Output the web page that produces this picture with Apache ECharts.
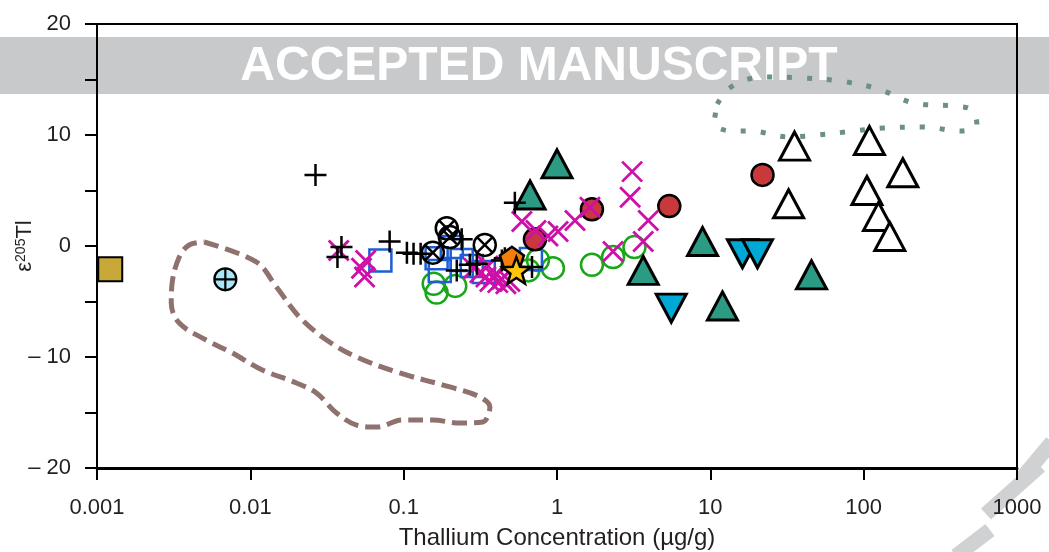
<!DOCTYPE html>
<html>
<head>
<meta charset="utf-8">
<script src="https://cdn.jsdelivr.net/npm/echarts@6/dist/echarts.min.js"></script>
<style>html,body{margin:0;padding:0;background:#fff}#c{width:1049px;height:552px}</style>
</head>
<body>
<div id="c"></div>
<script>
// ---- data (x = Tl concentration µg/g, y = ε205Tl) ----
const xTickLabels = ['0.001', '0.01', '0.1', '1', '10', '100', '1000'];
const yTickValues = [-20, -10, 0, 10, 20];
const yTickLabels = ['– 20', '– 10', '0', '10', '20'];

const goldSquare = [[0.00122, -2.1]];
const blueCirclePlus = [[0.00687, -3.0]];
const blackPlus = [[0.0266, 6.4], [0.037, -1.0], [0.0393, -0.1], [0.081, 0.4], [0.105, -0.6], [0.116, -0.7],
  [0.129, -0.7], [0.239, 0.6], [0.222, -2.2], [0.27, -1.7], [0.300, -1.6], [0.437, -1.3], [0.531, 3.9],
  [0.457, -1.1], [0.687, -1.9]];
const magentaCross = [[0.0377, -0.4], [0.0565, -1.3], [0.0531, -2.0], [0.0556, -2.8], [0.287, -2.0],
  [0.314, -2.4], [0.344, -2.8], [0.365, -3.2], [0.387, -2.7], [0.411, -3.3], [0.437, -3.0], [0.464, -3.4],
  [0.354, -1.8], [0.493, -3.2], [0.59, 2.2], [0.729, 1.4], [0.873, 0.9], [1.016, 1.3], [1.31, 2.3],
  [1.64, 3.5], [3.09, 6.7], [3.0, 4.4], [3.94, 2.3], [3.65, 0.4], [2.32, -0.5]];
const blueSquare = [[0.0705, -1.3], [0.164, -1.1], [0.172, -2.25], [0.206, -0.1], [0.239, -1.26],
  [0.278, -1.8], [0.333, -2.34], [0.676, -1.17]];
const greenCircle = [[0.157, -3.4], [0.164, -4.2], [0.217, -3.6], [0.65, -2.2], [0.751, -1.26],
  [0.94, -2.0], [1.69, -1.7], [2.32, -1.0], [3.2, -0.1]];
const circleCross = [[0.191, 1.6], [0.2, 0.8], [0.338, 0.1], [0.155, -0.6]];
const redCircle = [[0.718, 0.6], [1.69, 3.3], [5.4, 3.6], [21.9, 6.4]];
const tealTriangle = [[1.0, 7.4], [0.667, 4.6], [3.65, -2.2], [8.9, 0.4], [12.0, -5.4], [45.7, -2.6]];
const cyanDownTriangle = [[16.2, -0.7], [20.3, -0.7], [5.56, -5.6]];
const openTriangle = [[35.4, 9.0], [32.4, 3.8], [109, 9.5], [180, 6.6], [105, 5.0], [125, 2.66], [148, 0.86]];
const orangePentagon = [[0.508, -1.1]];
const yellowStar = [[0.543, -2.2]];

const dashedField = [[0.0050, 0.36], [0.01094, -1.44], [0.0148, -3.69], [0.0209, -6.40], [0.0314, -8.47],
  [0.0493, -10.0], [0.0942, -11.44], [0.200, -12.7], [0.314, -13.6], [0.365, -14.5], [0.328, -15.86],
  [0.232, -15.95], [0.155, -15.68], [0.0985, -15.68], [0.0666, -16.31], [0.0493, -16.13], [0.0365, -15.05],
  [0.0270, -13.24], [0.0200, -12.34], [0.01197, -11.17], [0.00763, -9.64], [0.00515, -8.47],
  [0.00344, -6.94], [0.00305, -5.14], [0.00309, -3.33], [0.00344, -0.99], [0.00399, 0.09], [0.0050, 0.36]];
const dottedField = [[11.1, 12.79], [13.1, 14.14], [16.9, 14.95], [22.9, 15.23], [40.5, 15.14], [70.8, 14.86],
  [125, 14.14], [212, 12.88], [382, 12.61], [508, 12.25], [548, 10.9], [431, 10.36], [243, 10.72],
  [135, 10.63], [76.3, 10.27], [43.0, 9.91], [32.4, 9.82], [18.2, 10.36], [13.7, 10.36], [10.6, 11.08],
  [11.1, 12.79]];

// ---- symbols ----
const PLUS = 'path://M50,0L50,100M0,50L100,50';
const CROSS = 'path://M0,0L100,100M100,0L0,100';
const CIRC_X = 'path://M0,50A50,50,0,1,1,100,50A50,50,0,1,1,0,50ZM14.6,14.6L85.4,85.4M85.4,14.6L14.6,85.4';
const CIRC_PLUS = 'path://M0,50A50,50,0,1,1,100,50A50,50,0,1,1,0,50ZM50,0L50,100M0,50L100,50';
const PENTA = 'path://M50,0L97.6,34.5L79.4,90.5L20.6,90.5L2.4,34.5Z';
const STAR = 'path://M50,0L62.34,33.01L97.55,34.55L69.97,56.49L79.39,90.45L50,71L20.61,90.45L30.03,56.49L2.45,34.55L37.66,33.01Z';

function sc(data, symbol, size, fill, stroke, bw, extra) {
  return Object.assign({
    type: 'scatter', data: data, symbol: symbol, symbolSize: size,
    itemStyle: { color: fill, borderColor: stroke, borderWidth: bw, opacity: 1 },
    emphasis: { disabled: true }, z: 3
  }, extra || {});
}
function contour(data, color, dash) {
  return {
    type: 'line', data: data, showSymbol: false, smooth: 0.35, z: 2,
    lineStyle: { color: color, width: 5, type: dash, cap: 'butt' },
    emphasis: { disabled: true }
  };
}

const FONT = '"Liberation Sans", Arial, Helvetica, sans-serif';
const TR = 'rgba(0,0,0,0)';
const chart = echarts.init(document.getElementById('c'));
chart.setOption({
  animation: false,
  backgroundColor: '#fff',
  textStyle: { fontFamily: FONT },
  grid: { left: 97, right: 32, top: 24, bottom: 84, show: true, borderColor: '#000', borderWidth: 2,
    backgroundColor: 'transparent', containLabel: false, outerBoundsMode: 'none' },
  graphic: [
    { type: 'rect', z: -10, shape: { x: 0, y: 37, width: 1049, height: 57 }, style: { fill: '#c8c9cb' } },
    { type: 'text', z: -9, x: 539, y: 67, style: { text: 'ACCEPTED MANUSCRIPT', fill: '#fff', font: 'bold 48px ' + FONT, textAlign: 'center', textVerticalAlign: 'middle' } },
    { type: 'polyline', z: -9, shape: { points: [[1022, 478], [1052, 442]] }, style: { stroke: '#d0d1d3', lineWidth: 15 } },
    { type: 'polyline', z: -9, shape: { points: [[986, 514], [1040, 466]] }, style: { stroke: '#d0d1d3', lineWidth: 15 } },
    { type: 'polyline', z: -9, shape: { points: [[956, 556], [990, 530]] }, style: { stroke: '#d0d1d3', lineWidth: 15 } }
  ],
  xAxis: {
    type: 'log', logBase: 10, min: 0.001, max: 1000,
    axisLine: { onZero: false, lineStyle: { color: '#000', width: 3 } },
    axisTick: { inside: false, length: 12, lineStyle: { color: '#000', width: 2 } },
    axisLabel: { fontSize: 22, color: '#231f20', margin: 29, fontFamily: FONT,
      formatter: v => xTickLabels[Math.round(Math.log10(v)) + 3] },
    splitLine: { show: false }, minorTick: { show: false },
    name: 'Thallium Concentration (µg/g)', nameLocation: 'middle', nameGap: 58, nameMoveOverlap: false,
    nameTextStyle: { fontSize: 24, color: '#231f20', fontFamily: FONT }
  },
  yAxis: {
    type: 'value', min: -20, max: 20, interval: 5,
    axisLine: { onZero: false, lineStyle: { color: '#000', width: 2 } },
    axisTick: { inside: false, length: 12, lineStyle: { color: '#000', width: 2 } },
    axisLabel: { fontSize: 22, color: '#231f20', margin: 26, fontFamily: FONT,
      formatter: v => { const i = yTickValues.indexOf(v); return i >= 0 ? yTickLabels[i] : ''; } },
    splitLine: { show: false },
    name: '{e|ε}{s|205}{e|Tl}', nameLocation: 'middle', nameGap: 61, nameRotate: 90, nameMoveOverlap: false,
    nameTextStyle: { color: '#231f20', fontFamily: FONT,
      rich: { e: { fontSize: 22, fontFamily: FONT, color: '#231f20' },
              s: { fontSize: 14, fontFamily: FONT, color: '#231f20', verticalAlign: 'top' } } }
  },
  series: [
    contour(dashedField, '#8f716e', [15, 7]),
    contour(dottedField, '#6c8f87', [5, 15]),
    sc(greenCircle, 'circle', 22, TR, '#19a719', 2.5),
    sc(blueSquare, 'rect', 22, TR, '#1d5ed6', 2.5),
    sc(circleCross, CIRC_X, 22, TR, '#000', 2.5),
    sc(redCircle, 'circle', 22, '#c8393b', '#000', 2.5),
    sc(tealTriangle, 'triangle', [30, 28], '#2b9b84', '#000', 3),
    sc(cyanDownTriangle, 'triangle', [30, 28], '#00a8d6', '#000', 3, { symbolRotate: 180 }),
    sc(openTriangle, 'triangle', [30, 28], '#fff', '#000', 3),
    sc(magentaCross, CROSS, 20, TR, '#cf10a8', 2.8),
    sc(blackPlus, PLUS, 22, TR, '#000', 2.5),
    sc(orangePentagon, PENTA, 24, '#f67c0c', '#000', 2.5, { symbolKeepAspect: true }),
    sc(yellowStar, STAR, 28, '#ffc40c', '#000', 2.5, { symbolKeepAspect: true }),
    sc(blueCirclePlus, CIRC_PLUS, 22, '#a9e6f8', '#000', 2.2),
    sc(goldSquare, 'rect', 24, '#c8a838', '#000', 2)
  ]
});
</script>
</body>
</html>
